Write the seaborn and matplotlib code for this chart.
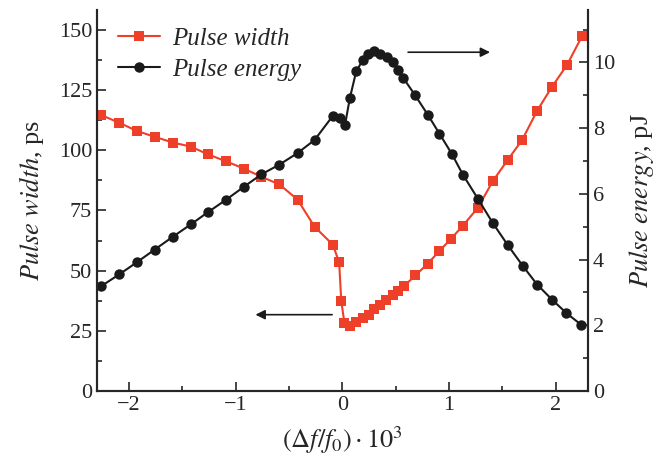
import numpy as np
import pandas as pd
import matplotlib
matplotlib.use("Agg")
import matplotlib.pyplot as plt
from matplotlib.ticker import MultipleLocator
import seaborn as sns

# dados
x_width = [-2.26, -2.09, -1.925, -1.76, -1.59, -1.42, -1.26, -1.09, -0.925, -0.76,
           -0.59, -0.42, -0.26, -0.09, -0.03, -0.01, 0.02, 0.075, 0.13, 0.19,
           0.25, 0.30, 0.355, 0.41, 0.47, 0.52, 0.58, 0.685, 0.80, 0.91,
           1.02, 1.13, 1.27, 1.41, 1.55, 1.685, 1.825, 1.965, 2.105, 2.245]
pulse_width = [114.6, 111.4, 108.0, 105.6, 103.2, 101.5, 98.3, 95.4, 92.4, 89.0,
               85.8, 79.5, 68.2, 60.8, 53.5, 37.2, 28.2, 26.8, 28.5, 30.3,
               31.7, 34.0, 35.8, 37.9, 39.7, 41.7, 43.7, 48.0, 52.9, 58.2,
               63.3, 68.7, 76.1, 87.2, 96.0, 104.3, 116.4, 126.4, 135.4, 147.3]

x_energy = [-2.26, -2.09, -1.92, -1.76, -1.59, -1.42, -1.26, -1.09, -0.92, -0.76,
            -0.59, -0.42, -0.26, -0.09, -0.02, 0.025, 0.07, 0.13, 0.19, 0.24,
            0.30, 0.35, 0.42, 0.47, 0.52, 0.57, 0.68, 0.80, 0.91, 1.025,
            1.13, 1.27, 1.41, 1.55, 1.69, 1.825, 1.965, 2.10, 2.24]
pulse_energy = [3.19, 3.55, 3.93, 4.30, 4.69, 5.07, 5.44, 5.82, 6.22, 6.59,
                6.89, 7.24, 7.64, 8.37, 8.31, 8.10, 8.91, 9.73, 10.06, 10.26,
                10.34, 10.26, 10.16, 10.01, 9.78, 9.53, 9.01, 8.41, 7.83, 7.22,
                6.58, 5.85, 5.11, 4.44, 3.81, 3.24, 2.78, 2.37, 2.01]

df_w = pd.DataFrame({"x": x_width, "y": pulse_width})
df_e = pd.DataFrame({"x": x_energy, "y": pulse_energy})

sns.set_style("ticks")
plt.rcParams["font.family"] = ["Liberation Serif", "DejaVu Serif"]
plt.rcParams["mathtext.fontset"] = "stix"
plt.rcParams["font.size"] = 16

RED = "#ee4028"
BLACK = "#1a1a1a"

fig = plt.figure(figsize=(6.59, 4.68), dpi=100)
ax = fig.add_axes([0.147, 0.1645, 0.745, 0.8145])
ax2 = ax.twinx()

sns.lineplot(data=df_w, x="x", y="y", ax=ax, color=RED, marker="s", markersize=6.5,
             markeredgewidth=0, linewidth=1.5, sort=False, label="Pulse width", legend=False)
sns.lineplot(data=df_e, x="x", y="y", ax=ax2, color=BLACK, marker="o", markersize=7.5,
             markeredgewidth=0, linewidth=1.5, sort=False, label="Pulse energy", legend=False)

ax.set_xlim(-2.3, 2.3)
ax.set_ylim(0, 158.3)
ax2.set_ylim(0, 11.6)

ax.xaxis.set_major_locator(MultipleLocator(1))
ax.xaxis.set_minor_locator(MultipleLocator(0.5))
ax.yaxis.set_major_locator(MultipleLocator(25))
ax.yaxis.set_minor_locator(MultipleLocator(12.5))
ax2.yaxis.set_major_locator(MultipleLocator(2))
ax2.yaxis.set_minor_locator(MultipleLocator(1))

for a in (ax, ax2):
    a.tick_params(which="major", direction="in", length=6.5, width=1.2, labelsize=16)
    a.tick_params(which="minor", direction="in", length=3.5, width=1.2)
    a.spines["top"].set_visible(False)
    for s in a.spines.values():
        s.set_linewidth(1.5)
ax.tick_params(axis="y", which="both", right=False)
ax.tick_params(axis="x", which="both", top=False)

ax.set_xlabel(r"$(\Delta f/f_0)\cdot 10^3$", fontsize=19, labelpad=7)
ax.set_ylabel(r"$\mathit{Pulse\ width}$, ps", fontsize=19, labelpad=9)
ax2.set_ylabel(r"$\mathit{Pulse\ energy}$, pJ", fontsize=19, labelpad=9)

# setas indicando o eixo de cada curva
ax2.annotate("", xy=(1.41, 10.31), xytext=(0.59, 10.31),
             arrowprops=dict(arrowstyle="-|>", color=BLACK, lw=1.2, mutation_scale=14))
ax.annotate("", xy=(-0.84, 31.7), xytext=(-0.07, 31.7),
            arrowprops=dict(arrowstyle="-|>", color=BLACK, lw=1.2, mutation_scale=14))

h1, l1 = ax.get_legend_handles_labels()
h2, l2 = ax2.get_legend_handles_labels()
leg = ax2.legend(h1 + h2, l1 + l2, loc="upper left", bbox_to_anchor=(0.008, 1.0),
                 frameon=False, prop={"style": "italic", "size": 18}, handlelength=1.65,
                 handletextpad=0.5, borderaxespad=0.3, labelspacing=0.35)

fig.savefig("out.png", dpi=100)
